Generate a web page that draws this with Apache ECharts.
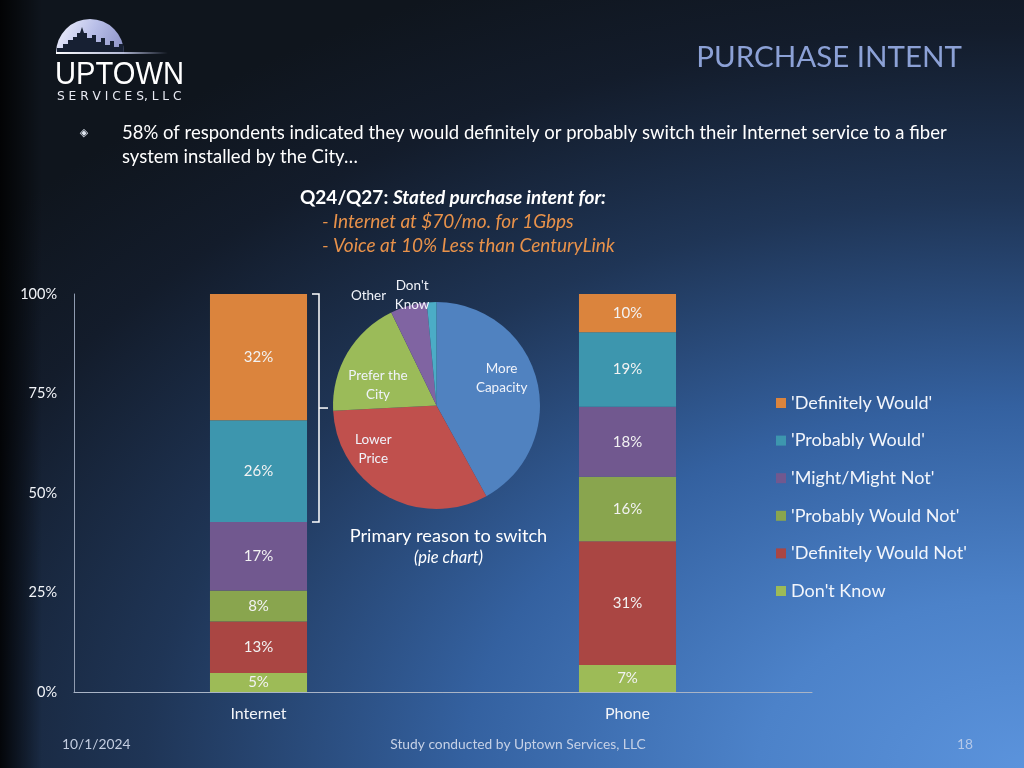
<!DOCTYPE html>
<html><head><meta charset="utf-8">
<script src="https://cdn.jsdelivr.net/npm/echarts@6/dist/echarts.min.js"></script>
<style>
html,body{margin:0;padding:0;width:1024px;height:768px;overflow:hidden;background:#0e1520;}
#bg{position:absolute;left:0;top:0;width:1024px;height:768px;
background:
 linear-gradient(to right, rgba(0,0,0,0.85) 0px, rgba(0,0,0,0) 42px),
 radial-gradient(ellipse 130% 112% at 100% 100%, #5b93dc 0%, #4c82c9 20%, #3461a0 42%, #1f3556 66%, #131c2b 86%, #0f151d 100%);}
#chart{position:absolute;left:0;top:0;width:1024px;height:768px;}
</style></head>
<body><div id="bg"></div><div id="chart"></div>
<script>
// ---- data ----
const categories = ['Internet', 'Phone'];
const dontKnow           = [4.8, 6.8];
const definitelyWouldNot = [12.9, 31.1];
const probablyWouldNot   = [7.8, 16.2];
const mightMightNot      = [17.2, 17.6];
const probablyWould      = [25.6, 18.7];
const definitelyWould    = [31.7, 9.6];
const seriesNames = ["Don't Know", "'Definitely Would Not'", "'Probably Would Not'", "'Might/Might Not'", "'Probably Would'", "'Definitely Would'"];
const yTickValues = [0, 25, 50, 75, 100];

const pieNames  = ['More\nCapacity', 'Lower\nPrice', 'Prefer the\nCity', 'Other', "Don't\nKnow"];
const pieValues = [42.0, 32.2, 18.6, 5.7, 1.5];

// ---- styles ----
const FONT = 'Lato, "Open Sans", sans-serif';
const barColors = ['#9dbb57', '#aa4643', '#89a54e', '#71588f', '#3d96ae', '#db843d'];
const pieColors = ['#5082c0', '#c0504d', '#9bbb59', '#8064a2', '#4bacc6'];
const PIE_CX = 436.5, PIE_CY = 405.5, PIE_R = 103.5;
// label nudges relative to the half-radius point of each slice
const pieLabelNudge = [[15, -14], [-38, -2], [-14, 6], [-54, -60], [-22, -59]];

const seriesValues = [dontKnow, definitelyWouldNot, probablyWouldNot, mightMightNot, probablyWould, definitelyWould];

const chart = echarts.init(document.getElementById('chart'), null, {renderer: 'canvas'});

const barSeries = seriesNames.map((name, i) => ({
  name: name,
  type: 'bar',
  stack: 'total',
  barWidth: '26.3%',
  data: seriesValues[i],
  itemStyle: {color: barColors[i]},
  label: {
    show: true, position: 'inside', color: '#f2f2f2', fontSize: 15, fontFamily: FONT,
    formatter: p => Math.round(p.value) + '%'
  },
  emphasis: {disabled: true}
}));

const pieTotal = pieValues.reduce((a, b) => a + b, 0);
function pieLabelPos(i) {
  let before = 0;
  for (let k = 0; k < i; k++) before += pieValues[k];
  const mid = (before + pieValues[i] / 2) / pieTotal * 2 * Math.PI;
  return {
    x: PIE_CX + PIE_R / 2 * Math.sin(mid) + pieLabelNudge[i][0],
    y: PIE_CY - PIE_R / 2 * Math.cos(mid) + pieLabelNudge[i][1]
  };
}

const pieSeries = {
  type: 'pie',
  center: [PIE_CX, PIE_CY],
  radius: PIE_R,
  startAngle: 90,
  clockwise: true,
  silent: true,
  data: pieNames.map((n, i) => ({name: n, value: pieValues[i], itemStyle: {color: pieColors[i]}})),
  label: {
    show: true, position: 'inside', color: '#f0f3fa', fontSize: 13.5, lineHeight: 19,
    fontFamily: FONT, formatter: '{b}'
  },
  labelLine: {show: false},
  labelLayout: p => {
    const pos = pieLabelPos(p.dataIndex);
    return {x: pos.x, y: pos.y, align: 'center', verticalAlign: 'middle'};
  },
  emphasis: {disabled: true}
};

const txt = (id, x, y, text, style, align) => ({
  type: 'text', id: id, x: x, y: y, silent: true,
  style: Object.assign({text: text, fill: '#ffffff', fontFamily: FONT, fontSize: 17,
    align: align || 'left', verticalAlign: 'middle'}, style)
});

const graphics = [
  // logo
  {type: 'sector', id: 'logoArc', silent: true,
   shape: {cx: 90, cy: 53, r: 34, r0: 0, startAngle: Math.PI, endAngle: 2 * Math.PI},
   style: {fill: new echarts.graphic.LinearGradient(0, 0, 1, 1, [
     {offset: 0, color: '#f4f5ff'}, {offset: 0.5, color: '#b9bfe8'}, {offset: 1, color: '#8a90c6'}])}},
  {type: 'polygon', id: 'logoSky', silent: true,
   shape: {points: [[57,53],[57,48],[63,48],[63,44],[68,44],[68,40],[73,40],[73,37],[77,37],[77,33],[80,33],[82,27],[84,33],[87,33],[87,38],[92,38],[92,35],[96,35],[96,42],[101,42],[101,38],[105,38],[105,45],[110,45],[110,41],[114,41],[114,47],[119,47],[119,44],[123,44],[124,53]]},
   style: {fill: '#172033'}},
  {type: 'rect', id: 'logoLine', silent: true, shape: {x: 56, y: 52, width: 112, height: 2},
   style: {fill: new echarts.graphic.LinearGradient(0, 0, 1, 0, [
     {offset: 0, color: 'rgba(255,255,255,1)'}, {offset: 0.6, color: 'rgba(220,225,255,0.8)'}, {offset: 1, color: 'rgba(200,210,255,0)'}])}},
  {type: 'text', id: 'uptown', x: 55, y: 75, scaleX: 0.94, silent: true,
   style: {text: 'UPTOWN', fill: '#ffffff', fontFamily: '"Liberation Sans", sans-serif', fontSize: 31, verticalAlign: 'middle'}},
  txt('services', 57, 97, 'S E R V I C E S, L L C', {fontFamily: '"DejaVu Sans", sans-serif', fontSize: 12.2, fill: '#e8eaf2'}),
  // title
  txt('title', 962, 57, 'PURCHASE INTENT', {fill: '#8ca1d6', fontSize: 29.5}, 'right'),
  // bullet
  txt('diamond', 84, 133, '◈', {fontFamily: '"DejaVu Sans", sans-serif', fontSize: 11, fill: '#e0e6f0'}, 'center'),
  txt('bullet1', 122, 133, '58% of respondents indicated they would definitely or probably switch their Internet service to a fiber', {fontSize: 18.5}),
  txt('bullet2', 122, 157, 'system installed by the City…', {fontSize: 18.5}),
  // subtitle
  {type: 'text', id: 'sub1', x: 300, y: 198, silent: true,
   style: {text: '{a|Q24/Q27: }{b|Stated purchase intent for:}', fontFamily: FONT, fontSize: 19, verticalAlign: 'middle',
     rich: {a: {fill: '#ffffff', fontWeight: 'bold', fontSize: 19, fontFamily: FONT},
            b: {fill: '#ffffff', fontWeight: 'bold', fontStyle: 'italic', fontSize: 19, fontFamily: FONT}}}},
  txt('sub2', 322, 222, '- Internet at $70/mo. for 1Gbps', {fill: '#e9924a', fontStyle: 'italic', fontSize: 19}),
  txt('sub3', 322, 246, '- Voice at 10% Less than CenturyLink', {fill: '#e9924a', fontStyle: 'italic', fontSize: 19}),
  // pie caption
  txt('pieCap1', 448.5, 536, 'Primary reason to switch', {fontSize: 18.2}, 'center'),
  txt('pieCap2', 448.5, 558, '(pie chart)', {fontSize: 16.5, fontStyle: 'italic'}, 'center'),
  // footer
  txt('date', 62, 745, '10/1/2024', {fill: '#c3cde0', fontSize: 13.8}),
  txt('study', 518, 745, 'Study conducted by Uptown Services, LLC', {fill: '#c6d1e6', fontSize: 13.8}, 'center'),
  txt('page', 965, 745, '18', {fill: '#b4c8e8', fontSize: 13.8}, 'center')
];

const option = {
  backgroundColor: 'transparent',
  animation: false,
  textStyle: {fontFamily: FONT},
  grid: {left: 74, right: 212, top: 294, bottom: 76, containLabel: false},
  legend: {
    orient: 'vertical', left: 776, top: 394, padding: 0, itemWidth: 10, itemHeight: 10, itemGap: 19.6,
    icon: 'rect', selectedMode: false,
    data: seriesNames.slice().reverse(),
    textStyle: {color: '#f2f5fb', fontSize: 18, lineHeight: 18, fontFamily: FONT}
  },
  xAxis: {
    type: 'category', data: categories,
    axisLine: {lineStyle: {color: '#a9b4c6', width: 1}},
    axisTick: {show: false},
    axisLabel: {color: '#f2f4f8', fontSize: 16, margin: 14, fontFamily: FONT}
  },
  yAxis: {
    type: 'value', min: yTickValues[0], max: yTickValues[yTickValues.length - 1],
    interval: yTickValues[1] - yTickValues[0],
    axisLine: {show: true, lineStyle: {color: '#8f9bb0', width: 1}},
    axisTick: {show: false},
    splitLine: {show: false},
    axisLabel: {color: '#f2f4f8', fontSize: 14.5, margin: 17, fontFamily: FONT, formatter: '{value}%'}
  },
  series: barSeries.concat([pieSeries]),
  graphic: graphics
};
chart.setOption(option);

// bracket around 'Definitely Would' + 'Probably Would' of Internet
(function () {
  const total = seriesValues.reduce((s, arr) => s + arr[0], 0);
  const lowerPart = total - definitelyWould[0] - probablyWould[0];
  const top = chart.convertToPixel({gridIndex: 0}, [0, total]);
  const bot = chart.convertToPixel({gridIndex: 0}, [0, lowerPart]);
  const barHalf = 48.5;
  const xh = top[0] + barHalf + 5, xv = top[0] + barHalf + 12, xt = xv + 9;
  const ym = (top[1] + bot[1]) / 2;
  chart.setOption({graphic: [
    {type: 'polyline', id: 'bracketA', silent: true,
     shape: {points: [[xh, top[1]], [xv, top[1]], [xv, bot[1]], [xh, bot[1]]]},
     style: {stroke: '#ffffff', lineWidth: 1.5, fill: null}},
    {type: 'line', id: 'bracketB', silent: true,
     shape: {x1: xv, y1: ym, x2: xt, y2: ym}, style: {stroke: '#ffffff', lineWidth: 1.5}}
  ]});
})();
</script>
</body></html>
